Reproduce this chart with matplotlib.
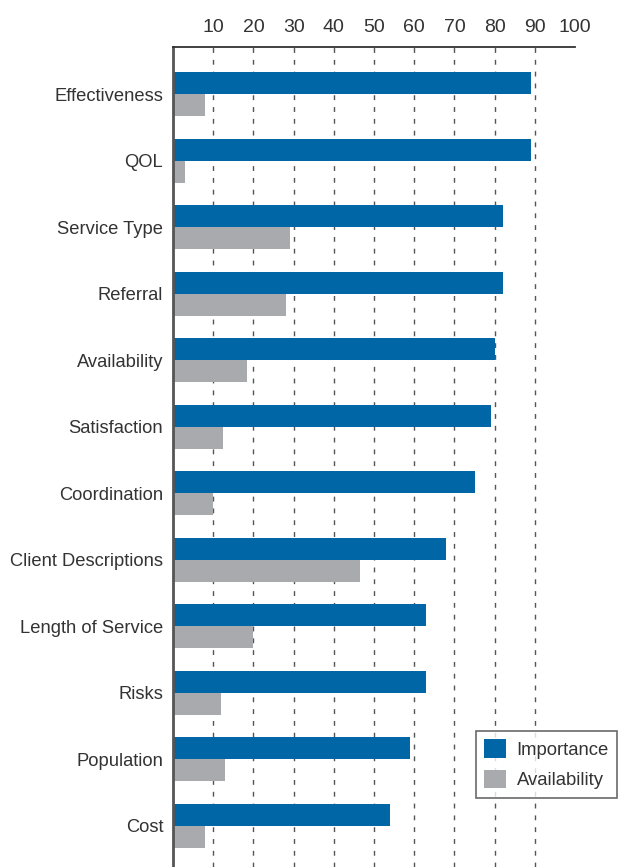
import numpy as np
import matplotlib
matplotlib.use("Agg")
import matplotlib.pyplot as plt

# data
categories = ["Effectiveness", "QOL", "Service Type", "Referral", "Availability",
              "Satisfaction", "Coordination", "Client Descriptions",
              "Length of Service", "Risks", "Population", "Cost"]
importance = [89, 89, 82, 82, 80, 79, 75, 68, 63, 63, 59, 54]
availability = [8, 3, 29, 28, 18.5, 12.5, 10, 46.5, 20, 12, 13, 8]
xticks = [10, 20, 30, 40, 50, 60, 70, 80, 90, 100]

plt.rcParams['font.family'] = ['Liberation Sans', 'DejaVu Sans']
text_col = '#333333'

fig = plt.figure(figsize=(6.3, 8.67), dpi=100)
ax = fig.add_axes([173/630, 0, 402/630, 1 - 47/867])

y = np.arange(len(categories))
h = 0.33
ax.barh(y - h/2, importance, height=h, color='#0066a6', label='Importance')
ax.barh(y + h/2, availability, height=h, color='#a9aaae', label='Availability')

ax.set_xlim(0, 100)
ax.set_ylim(len(categories) - 1 + 0.62, -0.71)
ax.set_yticks(y)
ax.set_yticklabels(categories, fontsize=13.2, color=text_col)
ax.tick_params(axis='y', length=0, pad=7)

ax.xaxis.tick_top()
ax.set_xticks(xticks)
ax.set_xticklabels([str(t) for t in xticks], fontsize=14, color=text_col)
ax.tick_params(axis='x', length=0, pad=8)
ax.set_axisbelow(True)
ax.grid(True, axis='x', color='#555555', linestyle=(0, (3.5, 5)), linewidth=1)
ax.xaxis.get_gridlines()[-1].set_visible(False)

for s in ['right', 'bottom']:
    ax.spines[s].set_visible(False)
ax.spines['top'].set_color('#333333')
ax.spines['top'].set_linewidth(1.3)
ax.spines['left'].set_color('#555555')
ax.spines['left'].set_linewidth(2)

leg = ax.legend(loc='upper left', bbox_to_anchor=(476/630, 1 - 731/867),
                bbox_transform=fig.transFigure, frameon=True, fancybox=False,
                fontsize=13.3, handlelength=1.15, handleheight=1.15,
                handletextpad=0.6, borderpad=0.45, labelspacing=0.6,
                borderaxespad=0)
leg.get_frame().set_edgecolor('#444444')
leg.get_frame().set_linewidth(1.2)
for t in leg.get_texts():
    t.set_color(text_col)

fig.savefig('out.png', dpi=100)
